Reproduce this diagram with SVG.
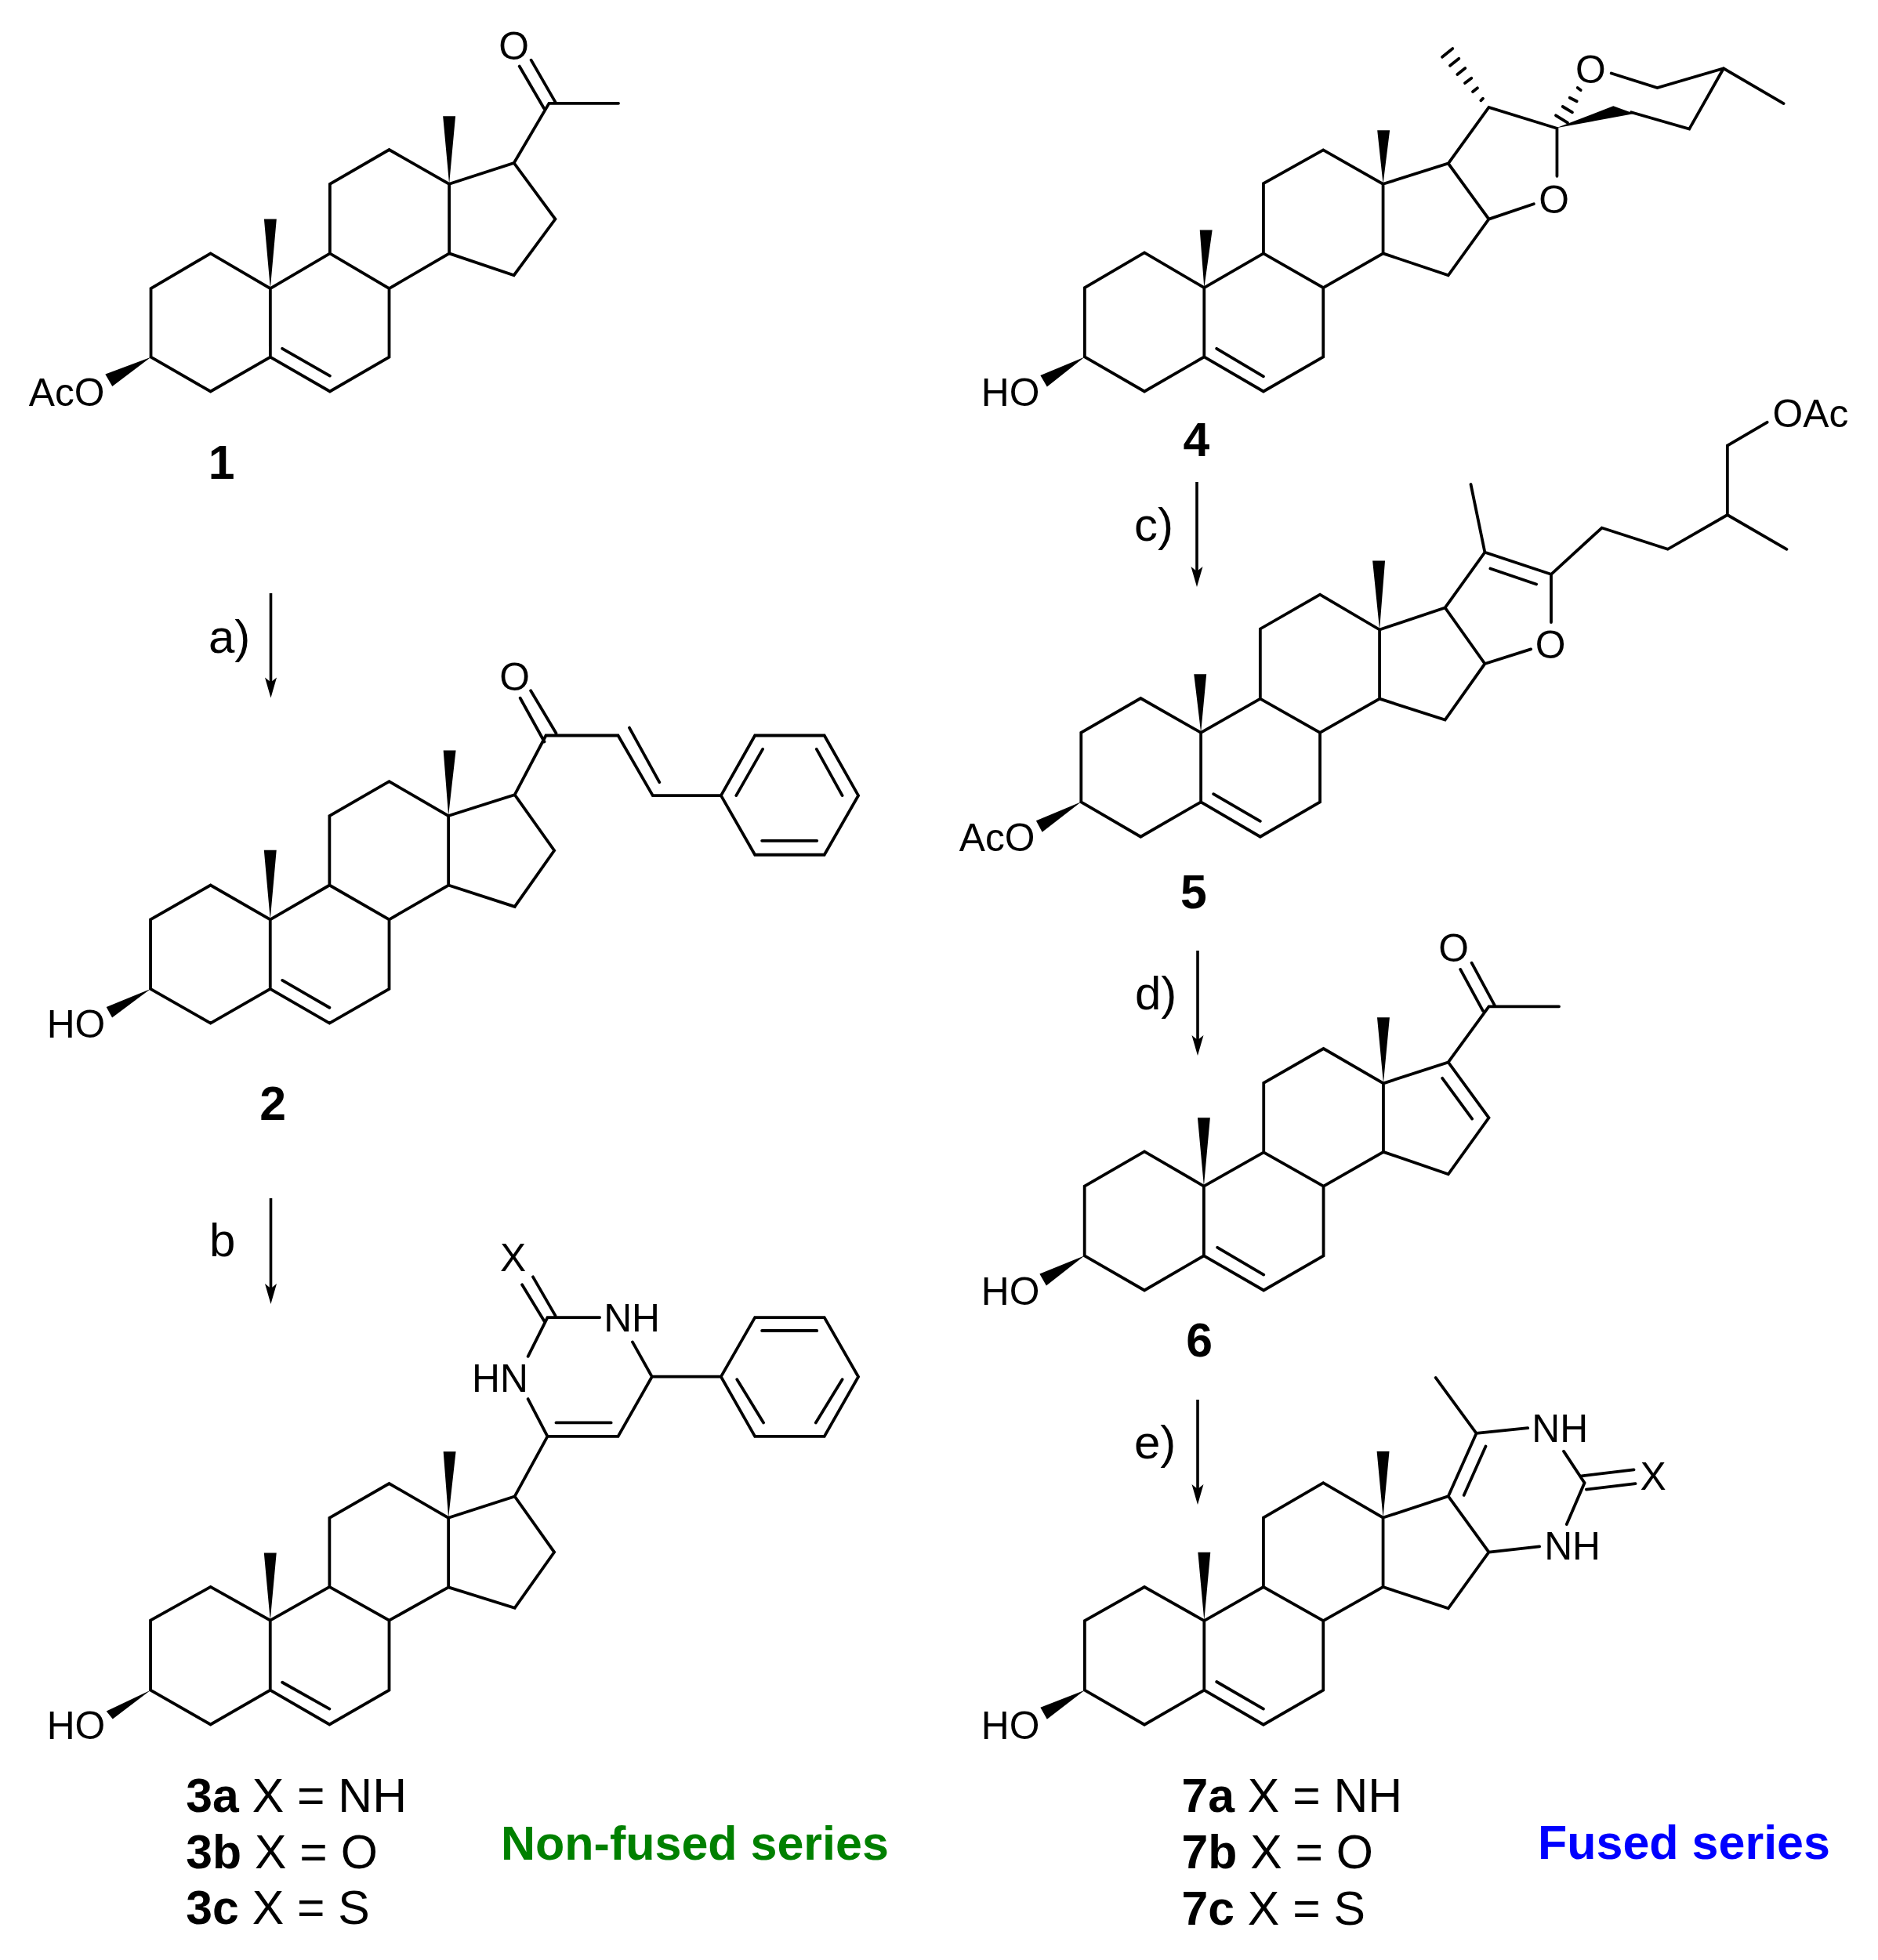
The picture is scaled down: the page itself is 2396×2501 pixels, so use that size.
<svg xmlns="http://www.w3.org/2000/svg" width="2396" height="2501" viewBox="0 0 2396 2501">
<defs>
<style>
.b{fill:none;stroke:#000;stroke-width:3.8;stroke-linejoin:miter;stroke-linecap:round}
.w{fill:#000;stroke:none}
.a{font-family:"Liberation Sans",Arial,sans-serif;font-size:50px;fill:#000}
.m{text-anchor:middle}
.n{font-family:"Liberation Sans",Arial,sans-serif;font-size:61px;fill:#000}
.l{font-family:"Liberation Sans",Arial,sans-serif;font-size:61px;font-weight:bold;fill:#000}
.r{font-family:"Liberation Sans",Arial,sans-serif;font-size:60px;fill:#000}
.t{font-weight:bold}
.arrow{fill:none;stroke:#000;stroke-width:3.6;marker-end:url(#head)}
</style>
<marker id="head" markerUnits="userSpaceOnUse" viewBox="0 -8 26 16" markerWidth="26" markerHeight="16" refX="16" refY="0" orient="auto" overflow="visible"><path d="M26,0L0,-7.5L6,0L0,7.5z" fill="#000"/></marker>
</defs>
<rect width="2396" height="2501" fill="#fff"/>

<g id="connectors">
<line class="arrow" x1="345.500" y1="757" x2="345.500" y2="880.500"/>
<line class="arrow" x1="345.500" y1="1529" x2="345.500" y2="1654"/>
<line class="arrow" x1="1527" y1="615" x2="1527" y2="739"/>
<line class="arrow" x1="1528" y1="1213" x2="1528" y2="1337"/>
<line class="arrow" x1="1528" y1="1786" x2="1528" y2="1910"/>
</g>

<g id="reagents">
<text class="r" x="266" y="833">a)</text>
<text class="r" x="267" y="1603">b</text>
<text class="r" x="1447" y="690">c)</text>
<text class="r" x="1448" y="1288">d)</text>
<text class="r" x="1447" y="1861">e)</text>
</g>

<g id="compound-1" transform="matrix(.995 0 0 .995 0 0)">
<path class="b" d="M193.500,458V370L270,325L346.600,370V458L270,502L193.500,458M346.600,370L423,325L499,370V458L423,502L346.600,458M423,325V236L499,192L576,236V325L499,370M576,325L659,353L712,281L659,209L576,236M659,209L704,132.500H793M362,447L423,482M666,85L697.500,139M681,77L713,132.500"/>
<path class="w" d="M346.600,370L338.600,281H354.600ZM576,236L568,149H584ZM193.500,458L135,480L144,495.600Z"/>
<text class="a" x="37" y="521">AcO</text>
<text class="a m" x="659" y="76.700">O</text>
<text class="l m" x="284" y="614">1</text>
</g>

<g id="compound-2" transform="matrix(.995 0 0 .995 0 4.200)">
<path class="b" d="M193,1264V1175L270,1131L346.500,1175V1264L270,1308L193,1264M346.500,1175L422.500,1131L499,1175V1264L422.500,1308L346.500,1264M422.500,1131V1042L499,998L575,1042V1131L499,1175M575,1131L660,1158.500L710.700,1086.500L660,1015L575,1042M660,1015L700,939H792.500L837,1016H924.500L968,939H1057L1100.600,1016L1057,1092H968L924.500,1016M978,956.500L944,1016M1047,956.500L1080,1016M977,1074H1047.500M807,929L845.500,999M667,891L698,947M680.500,881.500L713,936M362,1253L422.500,1288"/>
<path class="w" d="M346.500,1175L338.500,1086H354.500ZM575,1042L568.500,958H584.500ZM193,1264L136.400,1287.300L143.800,1300.800Z"/>
<text class="a" x="60" y="1326.500">HO</text>
<text class="a m" x="660" y="881.500">O</text>
<text class="l m" x="350" y="1431.500">2</text>
</g>

<g id="compound-3" transform="matrix(.995 0 0 .995 0 7.500)">
<path class="b" d="M193,2160V2070.500L270,2027.500L346.500,2070.500V2160L270,2204L193,2160M346.500,2070.500L422.500,2027.500L499,2070.500V2160L422.500,2204L346.500,2160M422.500,2027.500V1939L499,1895L575,1939V2028L499,2070.500M575,2028L660,2054.500L710.700,1983L660,1911.500L575,1939M660,1911.500L702,1834.600H792.500L836,1758L811,1713.500M702,1834.600L677,1786.500M677,1732L702,1682H769M836,1758H924.500L968,1682H1057L1100.600,1758L1057,1834.600H968L924.500,1758M977,1699H1047.500M945,1761.500L979,1817M1080,1761.500L1046,1817M713,1817H783.600M669.400,1640L698,1687M683.400,1630L712,1679.500M362,2150L422.500,2184"/>
<path class="w" d="M346.500,2070.500L338.500,1984H354.500ZM575,1939L568.500,1854H584.500ZM193,2160L136.400,2187L144.500,2197Z"/>
<text class="a" x="60" y="2222.500">HO</text>
<text class="a m" x="658" y="1623">X</text>
<text class="a" x="774" y="1700">NH</text>
<text class="a" x="605" y="1777">HN</text>
<text class="n" x="238.500" y="2316"><tspan class="t">3a</tspan> X = NH</text>
<text class="n" x="238.500" y="2388"><tspan class="t">3b</tspan> X = O</text>
<text class="n" x="238.500" y="2460"><tspan class="t">3c</tspan> X = S</text>
</g>

<g id="compound-4">
<g transform="matrix(.995 0 0 .995 6 0)">
<path class="b" d="M1384.800,457.700V369L1461.400,324L1538,369V457.700L1461.400,502L1384.800,457.700M1538,369L1614,325L1690.700,369V457.700L1614,502L1538,457.700M1614,325V235.400L1690.700,192.300L1767.400,236V325L1690.700,369M1767.400,325L1851,353L1903,281L1851,209.600L1767.400,236M1851,209.600L1903,137.700L1990.400,164.600V226M1903,281L1960.600,261.500M2060,94L2119,112.700L2204,87.700L2281,132.700M2204,87.700L2160,165.400L2085.600,144M1554,447L1614,482.700"/>
<path class="w" d="M1538,369L1532.400,295H1548.400ZM1767.400,236L1760,167H1776ZM1384.800,457.700L1328,481.500L1336.500,496Z"/>
<text class="a" x="1252" y="521">HO</text>
<text class="a m" x="1986.600" y="273">O</text>
<text class="a m" x="2033.400" y="107">O</text>
<text class="l m" x="1528" y="585">4</text>
</g>
<path class="w" d="M1985.700,163.300L2058.300,135.300L2085,145Z"/>
<path class="b" d="M1840,72.700L1853.300,62M1850,83.700L1861.300,74.700M1859.300,95L1869.300,87M1869,106L1877.300,99.700M1879,117L1885,112.300M1889.300,128.300L1892,125.700M1985,147.300L2000,156.700M1993.700,136L2006,143.300M2002.700,124.700L2011.700,129.300M2012.700,112L2016.700,115"/>
</g>

<g id="compound-5" transform="matrix(.995 0 0 .995 5.900 2.500)">
<path class="b" d="M1380.300,1026V937L1456.700,893L1533.900,937V1026L1456.700,1070.600L1380.300,1026M1533.900,937L1610,893.600L1686.600,937V1026L1610,1070.600L1533.900,1026M1610,893.600V804L1686.600,760L1763,805V893.600L1686.600,937M1763,893.600L1847,920.700L1898,848.700L1847,776.800L1763,805M1847,776.800L1898,705.800L1983,734V795.600M1898,705.800L1880,618.600M1898,848.700L1957,830M1905,726.700L1964,746.700M1983,734L2048,674.400L2132.500,701.800L2209,657.800L2285,701.800M2209,657.800V569L2260,539M1550,1015.700L1610,1050.600"/>
<path class="w" d="M1533.900,937L1525,862H1541ZM1763,805L1754,716.700H1770ZM1380.300,1026L1322.600,1050L1330.400,1064.500Z"/>
<text class="a" x="1224" y="1089">AcO</text>
<text class="a m" x="1982" y="842">O</text>
<text class="a" x="2267" y="545">OAc</text>
<text class="l m" x="1524.500" y="1162">5</text>
</g>

<g id="compound-6" transform="matrix(.995 0 0 .995 6 5.750)">
<path class="b" d="M1384.600,1604.600V1515.400L1461.400,1471L1537.600,1515.400V1604.600L1461.400,1649L1384.600,1604.600M1537.600,1515.400L1614.300,1472L1691,1515.400V1604.600L1614.300,1649L1537.600,1604.600M1614.300,1472V1383L1691,1339L1767.800,1383.500V1471.500L1691,1515.400M1767.800,1471.500L1851,1500L1903,1427.700L1851,1356.500L1767.800,1383.500M1851,1356.500L1903,1285H1993M1843.400,1377L1881.500,1429M1866.500,1237.300L1895.300,1290.400M1881,1229L1911,1284.600M1555,1594L1614.300,1629"/>
<path class="w" d="M1537.600,1515.400L1529.600,1427.700H1545.600ZM1767.800,1383.500L1759.800,1299H1775.800ZM1384.600,1604.600L1327,1628L1335.600,1643Z"/>
<text class="a" x="1252" y="1667.700">HO</text>
<text class="a m" x="1857.800" y="1227">O</text>
<text class="l m" x="1531.800" y="1733.500">6</text>
</g>

<g id="compound-7" transform="matrix(.995 0 0 .995 6 8.750)">
<path class="b" d="M1384.800,2158.700V2069.700L1461.400,2026.400L1538,2069.700V2158.700L1461.400,2203L1384.800,2158.700M1538,2069.700L1614,2026.400L1690.700,2069.700V2158.700L1614,2203L1538,2158.700M1614,2026.400V1937.500L1690.700,1892.800L1767.400,1937.500V2026.400L1690.700,2069.700M1767.400,2026.400L1851,2053.800L1903,1981.700L1851,1910L1767.400,1937.500M1851,1910L1887,1829.300L1834.800,1758M1871,1908.700L1899,1846M1887,1829.300L1953,1822.600M1999,1852.400L2025.700,1892.800L2002.800,1946M2022,1884L2089,1876M2028,1901.400L2091,1893.800M1903,1981.700L1968,1974.500M1554,2148L1614,2182.700"/>
<path class="w" d="M1538,2069.700L1530,1982H1546ZM1767.400,1937.500L1759.400,1852.400H1775.400ZM1384.800,2158.700L1328,2181L1336.500,2196Z"/>
<text class="a" x="1252" y="2221">HO</text>
<text class="a" x="1958" y="1840">NH</text>
<text class="a" x="1974" y="1991">NH</text>
<text class="a" x="2097" y="1902">X</text>
<text class="n" x="1509" y="2315"><tspan class="t">7a</tspan> X = NH</text>
<text class="n" x="1509" y="2387.500"><tspan class="t">7b</tspan> X = O</text>
<text class="n" x="1509" y="2459.600"><tspan class="t">7c</tspan> X = S</text>
</g>

<g id="series">
<text class="l" x="639" y="2373" style="fill:#008000">Non-fused series</text>
<text class="l" x="1962" y="2372" style="fill:#0000ff">Fused series</text>
</g>
</svg>
